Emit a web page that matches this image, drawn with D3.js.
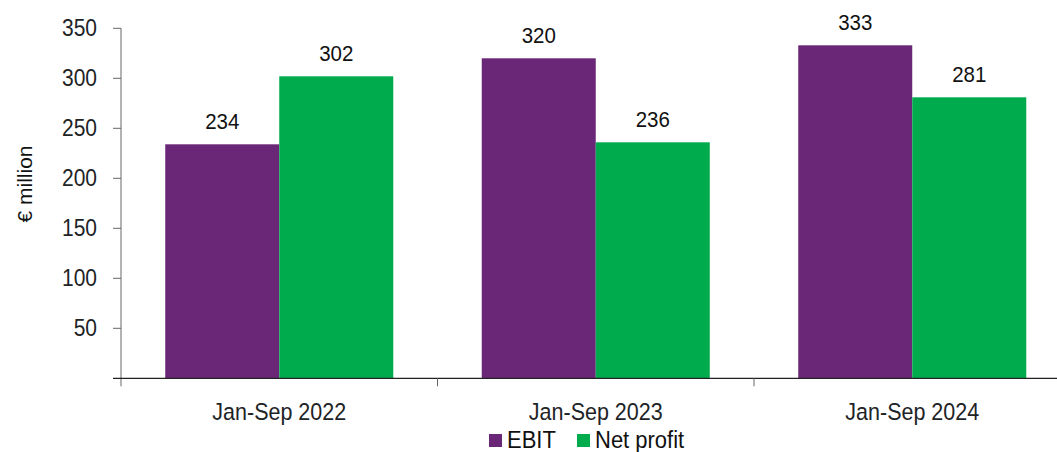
<!doctype html>
<html>
<head>
<meta charset="utf-8" />
<title>EBIT and net profit</title>
<script src="https://cdn.jsdelivr.net/npm/d3@7"></script>
<style>
  html, body { margin: 0; padding: 0; background: #fff; overflow: hidden; }
  text { font-family: "Liberation Sans", Arial, sans-serif; }
</style>
</head>
<body>
<script>
// data
const periods = ["Jan-Sep 2022", "Jan-Sep 2023", "Jan-Sep 2024"];
const seriesNames = ["EBIT", "Net profit"];
const ebit = [234, 320, 333];
const netProfit = [302, 236, 281];
const yTicks = [50, 100, 150, 200, 250, 300, 350];

const colors = ["#6b2777", "#00ab4e"];
const values = [ebit, netProfit];

const width = 1057, height = 452;
const plotLeft = 121, plotRight = 1070.5, plotTop = 28.3, plotBottom = 378.3;
const stretch = 1.1; // the original type is a bit taller than Arial

const svg = d3.select("body").append("svg")
    .attr("width", width)
    .attr("height", height);

// place a text at (fx, fy) with a slight vertical stretch
function place(sel, fx, fy) {
    return sel.attr("transform", (d, i) => `translate(${fx(d, i)},${fy(d, i)}) scale(1,${stretch})`);
}

const x = d3.scaleBand().domain(periods).range([plotLeft, plotRight]).padding(0);
const xs = d3.scaleBand().domain(seriesNames).range([0, x.bandwidth()])
    .paddingInner(0).paddingOuter(0.388);
const y = d3.scaleLinear().domain([0, 350]).range([plotBottom, plotTop]);

// bars
const groups = svg.append("g").selectAll("g")
    .data(periods)
    .join("g")
    .attr("transform", d => `translate(${x(d)},0)`);

groups.selectAll("rect")
    .data((p, i) => seriesNames.map((s, j) => ({ s, v: values[j][i], c: colors[j] })))
    .join("rect")
    .attr("x", d => xs(d.s))
    .attr("width", xs.bandwidth())
    .attr("y", d => y(d.v))
    .attr("height", d => y(0) - y(d.v))
    .attr("fill", d => d.c);

place(groups.selectAll("text.val")
    .data((p, i) => seriesNames.map((s, j) => ({ s, v: values[j][i] })))
    .join("text")
    .attr("class", "val")
    .attr("text-anchor", "middle")
    .attr("font-size", 20.5)
    .attr("fill", "#111")
    .text(d => d.v),
    d => xs(d.s) + xs.bandwidth() / 2, d => y(d.v) - 15);

// y axis
const yAxis = svg.append("g");
yAxis.append("line")
    .attr("x1", plotLeft).attr("x2", plotLeft)
    .attr("y1", y(350)).attr("y2", plotBottom + 8)
    .attr("stroke", "#666").attr("stroke-width", 1);
yAxis.selectAll("line.tick")
    .data(yTicks)
    .join("line")
    .attr("class", "tick")
    .attr("x1", plotLeft - 8).attr("x2", plotLeft)
    .attr("y1", d => y(d)).attr("y2", d => y(d))
    .attr("stroke", "#666");
place(yAxis.selectAll("text")
    .data(yTicks)
    .join("text")
    .attr("dy", "0.35em")
    .attr("text-anchor", "end")
    .attr("font-size", 21)
    .attr("fill", "#1e2326")
    .text(d => d),
    () => 97, d => y(d));

// x axis
const xAxis = svg.append("g");
xAxis.append("line")
    .attr("x1", plotLeft - 8).attr("x2", plotRight)
    .attr("y1", plotBottom).attr("y2", plotBottom)
    .attr("stroke", "#222").attr("stroke-width", 1.3);
xAxis.selectAll("line.tick")
    .data(periods.slice(1).concat(["end"]))
    .join("line")
    .attr("class", "tick")
    .attr("x1", d => d === "end" ? plotRight : x(d))
    .attr("x2", d => d === "end" ? plotRight : x(d))
    .attr("y1", plotBottom).attr("y2", plotBottom + 8)
    .attr("stroke", "#666");
place(xAxis.selectAll("text")
    .data(periods)
    .join("text")
    .attr("text-anchor", "middle")
    .attr("font-size", 21.5)
    .attr("fill", "#1e2326")
    .text(d => d),
    d => x(d) + x.bandwidth() / 2, () => 419.5);

// y title
svg.append("text")
    .attr("transform", "translate(32,184) rotate(-90)")
    .attr("text-anchor", "middle")
    .attr("font-size", 21)
    .attr("fill", "#111")
    .text("€ million");

// legend
const legendX = [489, 577];
const legend = svg.append("g").selectAll("g")
    .data(seriesNames)
    .join("g")
    .attr("transform", (d, i) => `translate(${legendX[i]},434)`);
legend.append("rect")
    .attr("width", 13).attr("height", 13)
    .attr("fill", (d, i) => colors[i]);
place(legend.append("text")
    .attr("font-size", 22)
    .attr("fill", "#111")
    .text(d => d),
    () => 18, () => 14);
</script>
</body>
</html>
